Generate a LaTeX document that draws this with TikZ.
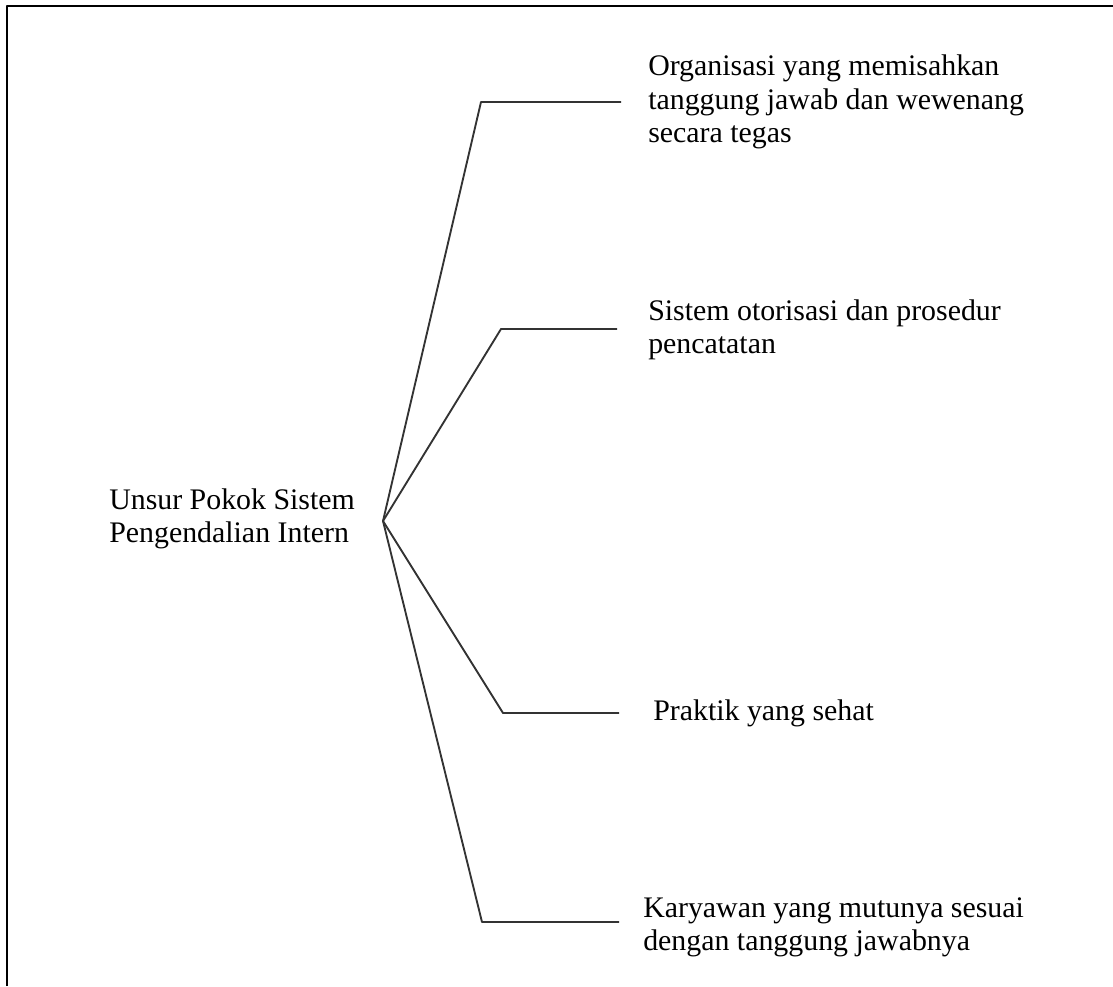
\documentclass[tikz,border=0pt]{standalone}
\usepackage{fontspec}
\setmainfont{Liberation Serif}

\begin{document}
\begin{tikzpicture}[x=0.75pt, y=-0.75pt, line join=round, branch/.style={draw=black!80, line width=1.4pt}, item node/.style={anchor=west, align=left, inner sep=0pt, font=\fontsize{22.4}{25}\selectfont}]
	\useasboundingbox (0,0) rectangle (1113,986);
	\draw[line width=2pt] (7,986) -- (7,6) -- (1113,6);

	\node[item node] (U) at (109,519) {Unsur Pokok Sistem\\Pengendalian Intern};
	\coordinate (H) at (383,521);

	\coordinate (K1) at (481,102);
	\coordinate (K2) at (501,329);
	\coordinate (K3) at (503,713);
	\coordinate (K4) at (482,922);
	\coordinate (E1) at (621,102);
	\coordinate (E2) at (617,329);
	\coordinate (E3) at (619,713);
	\coordinate (E4) at (619,922);

	\node[item node] (O) at (648,102) {Organisasi yang memisahkan\\tanggung jawab dan wewenang\\secara tegas};
	\node[item node] (S) at (648,330) {Sistem otorisasi dan prosedur\\pencatatan};
	\node[item node] (P) at (653,713) {Praktik yang sehat};
	\node[item node] (K) at (643,927) {Karyawan yang mutunya sesuai\\dengan tanggung jawabnya};

	\draw[branch] (H) -- (K1) -- (E1);
	\draw[branch] (H) -- (K2) -- (E2);
	\draw[branch] (H) -- (K3) -- (E3);
	\draw[branch] (H) -- (K4) -- (E4);
\end{tikzpicture}
\end{document}
